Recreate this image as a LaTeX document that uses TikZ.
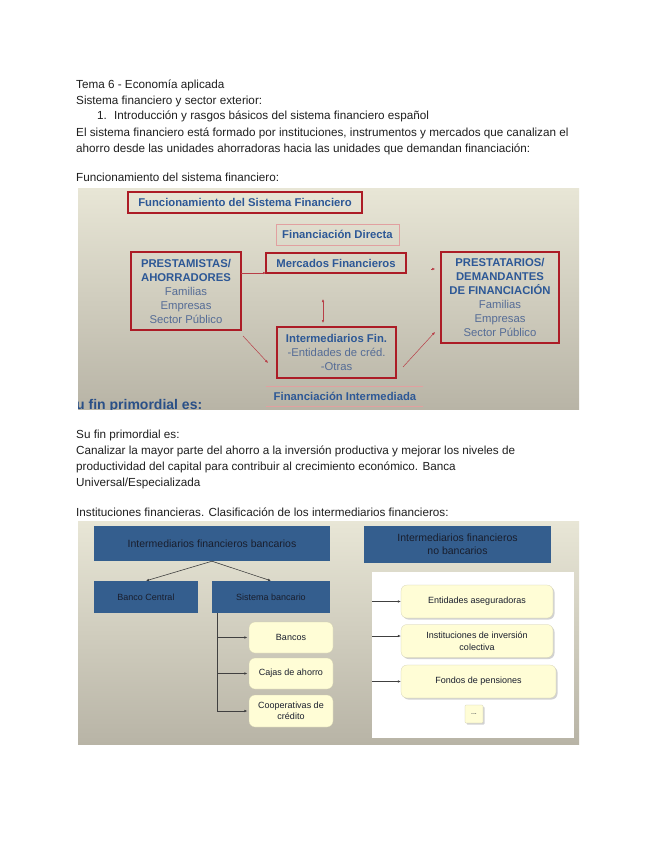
\documentclass[tikz,border=0pt]{standalone}
\usepackage{fontspec}
\setmainfont{Liberation Sans}
\usetikzlibrary{arrows.meta,shadows}
\definecolor{redb}{RGB}{172,28,38}
\definecolor{bluet}{RGB}{45,88,150}
\definecolor{bluel}{RGB}{85,108,150}
\definecolor{pinkl}{RGB}{225,160,160}
\definecolor{bgtop}{RGB}{232,230,214}
\definecolor{bgbot}{RGB}{184,180,166}
\definecolor{boxblue}{RGB}{52,94,142}
\definecolor{pyel}{RGB}{255,253,214}
\definecolor{darkt}{RGB}{25,30,45}
\tikzset{
  txt/.style={anchor=base west, inner sep=0pt, font=\fontsize{11.7}{13}\selectfont, text=black!88},
  redbox/.style={draw=redb, line width=1.6pt, inner sep=0pt, align=center, text=bluet,
    font=\bfseries\fontsize{11.3}{14}\selectfont},
  pinkbox/.style={draw=pinkl, line width=0.5pt, inner sep=0pt, align=center, text=bluet,
    font=\bfseries\fontsize{11.3}{14}\selectfont},
  redar/.style={draw=redb!85, line width=0.5pt, -{Latex[length=3pt,width=2.6pt]}},
  redbi/.style={draw=redb!85, line width=0.5pt, {Latex[length=3pt,width=2.6pt]}-{Latex[length=3pt,width=2.6pt]}},
  bluebox/.style={fill=boxblue, draw=none, inner sep=0pt, align=center, text=darkt,
    font=\fontsize{10.5}{13}\selectfont},
  yelbox/.style={fill=pyel, draw=pyel!80!black, line width=0.2pt, rounded corners=6pt, inner sep=0pt,
    align=center, text=darkt, font=\fontsize{9}{11.5}\selectfont},
  yelshadow/.style={yelbox, drop shadow={opacity=0.35, shadow xshift=1.5pt, shadow yshift=-1.5pt}},
  darkar/.style={draw=black!75, line width=0.6pt, -{Latex[length=3pt,width=2.6pt]}},
}
\begin{document}
\begin{tikzpicture}[x=1pt,y=-1pt]
\useasboundingbox (0,0) rectangle (655,848);
\fill[white] (0,0) rectangle (655,848);

% ---- body text ----
\node[txt] (t1) at (76,89) {Tema 6 - Economía aplicada};
\node[txt] (t2) at (76,105) {Sistema financiero y sector exterior:};
\node[txt] (t3n) at (97,120) {1.};
\node[txt] (t3) at (114,120) {Introducción y rasgos básicos del sistema financiero español};
\node[txt] (t4) at (76,136) {El sistema financiero está formado por instituciones, instrumentos y mercados que canalizan el};
\node[txt] (t5) at (76,152) {ahorro desde las unidades ahorradoras hacia las unidades que demandan financiación:};
\node[txt] (t6) at (76,181) {Funcionamiento del sistema financiero:};
\node[txt] (t7) at (76,438) {Su fin primordial es:};
\node[txt] (t8) at (76,454) {Canalizar la mayor parte del ahorro a la inversión productiva y mejorar los niveles de};
\node[txt] (t9) at (76,470) {productividad del capital para contribuir al crecimiento económico. Banca};
\node[txt] (t10) at (76,486) {Universal/Especializada};
\node[txt] (t11) at (76,516) {Instituciones financieras. Clasificación de los intermediarios financieros:};

% ---- top picture ----
\begin{scope}
\clip (78,188) rectangle (579,409);
\shade[top color=bgtop, bottom color=bgbot] (78,188) rectangle (579,409);
\node[redbox, minimum width=234pt, minimum height=21pt] (title) at (245,202.5) {Funcionamiento del Sistema Financiero};
\node[pinkbox, minimum width=123pt, minimum height=21pt] (fdir) at (337.5,234.5) {Financiación Directa};
\node[redbox, minimum width=140pt, minimum height=20pt] (merc) at (336,263) {Mercados Financieros};
\node[redbox, minimum width=110pt, minimum height=78pt] (prest) at (186,291)
  {PRESTAMISTAS/\\AHORRADORES\\{\mdseries\color{bluel}Familias}\\{\mdseries\color{bluel}Empresas}\\{\mdseries\color{bluel}Sector Público}};
\node[redbox, minimum width=118pt, minimum height=91pt] (prestat) at (500,297.5)
  {PRESTATARIOS/\\DEMANDANTES\\DE FINANCIACIÓN\\{\mdseries\color{bluel}Familias}\\{\mdseries\color{bluel}Empresas}\\{\mdseries\color{bluel}Sector Público}};
\node[redbox, minimum width=119pt, minimum height=51pt] (interm) at (336.5,352.5)
  {Intermediarios Fin.\\{\mdseries\color{bluel}-Entidades de créd.}\\{\mdseries\color{bluel}-Otras}};
\node[inner sep=0pt, text=bluet, font=\bfseries\fontsize{11.3}{13}\selectfont] (fint) at (345,396) {Financiación Intermediada};
\coordinate (fl1) at (266,386);
\coordinate (fr1) at (423,386);
\coordinate (fl2) at (266,406.5);
\coordinate (fr2) at (423,406.5);
\draw[pinkl, line width=0.8pt] (fl1) -- (fr1);
\draw[pinkl, line width=0.8pt] (fl2) -- (fr2);
\node[anchor=base west, inner sep=0pt, text=bluet!90!black, font=\bfseries\fontsize{14}{16}\selectfont] (ufin) at (76,409) {u fin primordial es:};
% arrows
\coordinate (a1s) at (241,273);
\coordinate (a1e) at (266,273);
\draw[redar] (a1s) -- (a1e);
\coordinate (a2s) at (323,299);
\coordinate (a2e) at (323,323);
\draw[redbi] (a2s) -- (a2e);
\coordinate (a3s) at (243,336);
\coordinate (a3e) at (268,363);
\draw[redar] (a3s) -- (a3e);
\coordinate (a4s) at (403,367);
\coordinate (a4e) at (435,332);
\draw[redar] (a4s) -- (a4e);
\coordinate (a5s) at (431,269);
\draw[redar] (a5s) -- ([xshift=-5pt]a5s -| prestat.west);
\end{scope}

% ---- bottom picture ----
\shade[top color=bgtop, bottom color=bgbot] (78,521) rectangle (579,744);
\fill[white] (372,572) rectangle (574,738);
\node[bluebox, minimum width=236pt, minimum height=35pt] (ifb) at (212,543.5) {Intermediarios financieros bancarios};
\node[bluebox, minimum width=104pt, minimum height=32pt, font=\fontsize{9}{11}\selectfont] (bc) at (146,597) {Banco Central};
\node[bluebox, minimum width=118pt, minimum height=32pt, font=\fontsize{9}{11}\selectfont] (sb) at (271,597) {Sistema bancario};
\node[yelbox, minimum width=84pt, minimum height=31pt] (bancos) at (291,637.5) {Bancos};
\node[yelbox, minimum width=84pt, minimum height=31pt] (cajas) at (291,673.5) {Cajas de ahorro};
\node[yelbox, minimum width=84pt, minimum height=32pt] (coop) at (291,711) {Cooperativas de\\crédito};
\draw[darkar] (ifb.south) -- (bc.north);
\draw[darkar] (ifb.south) -- (sb.north);
\coordinate (trunk) at (217,613);
\draw[darkar, shorten >=1.5pt] (trunk) |- (bancos.west);
\draw[darkar, shorten >=1.5pt] (trunk) |- (cajas.west);
\draw[darkar, shorten >=1.5pt] (trunk) |- (coop.west);

\node[bluebox, minimum width=187pt, minimum height=37pt] (ifnb) at (457.5,544.5) {Intermediarios financieros\\no bancarios};
\node[yelshadow, minimum width=152pt, minimum height=33pt] (ea) at (477,601.5) {Entidades aseguradoras};
\node[yelshadow, minimum width=152pt, minimum height=33pt] (iic) at (477,641) {Instituciones de inversión\\colectiva};
\node[yelshadow, minimum width=155pt, minimum height=33pt] (fp) at (478.5,681.5) {Fondos de pensiones};
\node[yelshadow, rounded corners=1pt, minimum width=18pt, minimum height=18pt, font=\fontsize{7}{8}\selectfont] (dots) at (474,714) {...};
\coordinate (r1) at (372,601.5);
\coordinate (r2) at (372,636);
\coordinate (r3) at (372,681.5);
\draw[darkar] (r1) -- (r1 -| ea.west);
\draw[darkar] (r2) -- (r2 -| iic.west);
\draw[darkar] (r3) -- (r3 -| fp.west);
\end{tikzpicture}
\end{document}
